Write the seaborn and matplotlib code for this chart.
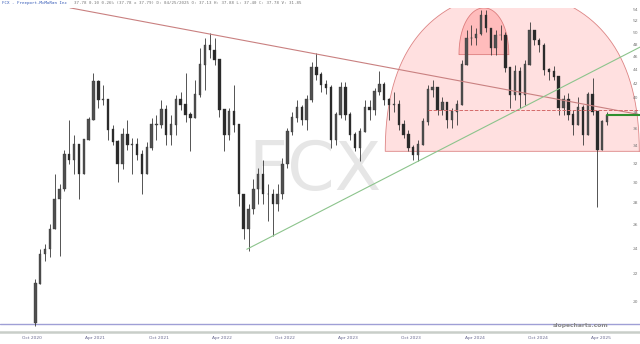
import numpy as np
import pandas as pd
import matplotlib
matplotlib.use("Agg")
import matplotlib.pyplot as plt
import matplotlib.dates as mdates
import matplotlib.transforms as mtransforms
from matplotlib.ticker import NullLocator
import seaborn as sns

# ---------------- data ----------------
first_date = "2020-10-10"
period_days = 14
first_open = 18.6

high = [21.63, 23.94, 24.35, 26.06, 30.87, 29.84, 33.60, 37.20, 35.35, 34.18,
        34.76, 37.58, 43.62, 42.60, 41.88, 39.54, 36.57, 34.76, 36.20, 37.20,
        35.00, 35.00, 33.60, 34.53, 37.45, 37.83, 39.81, 39.14, 37.83, 40.49,
        40.90, 43.62, 38.22, 42.60, 47.48, 49.11, 49.95, 49.11, 45.28, 38.22,
        38.74, 41.88, 36.20, 28.85, 27.89, 30.35, 31.61, 32.48, 29.84, 29.34,
        29.84, 32.70, 36.20, 38.22, 39.81, 39.14, 40.49, 45.28, 46.68, 43.77,
        42.60, 41.88, 38.22, 42.31, 42.31, 38.22, 35.72, 36.20, 39.81, 39.81,
        41.46, 43.92, 42.31, 40.08, 40.90, 39.81, 37.20, 35.96, 34.18, 34.76,
        37.45, 41.88, 42.60, 41.46, 40.22, 39.41, 38.74, 39.81, 45.59, 50.46,
        51.32, 50.80, 54.00, 54.00, 50.80, 50.46, 51.32, 50.12, 44.37, 44.82,
        44.52, 45.59, 51.85, 50.46, 49.11, 48.29, 44.37, 44.67, 43.03, 40.49,
        40.76, 38.48, 40.22, 39.14, 40.90, 42.89, 38.22, 37.20, 38.22]
low = [18.45, 22.00, 22.99, 23.30, 26.06, 23.38, 29.14, 31.94, 30.87, 28.36,
       31.40, 34.76, 37.45, 38.74, 39.14, 34.76, 34.18, 30.14, 31.40, 33.60,
       30.87, 32.48, 28.85, 30.87, 33.60, 34.76, 36.20, 34.18, 34.18, 35.35,
       38.48, 36.95, 33.38, 37.45, 40.22, 41.18, 45.90, 44.82, 37.58, 33.38,
       34.76, 35.72, 27.70, 24.77, 23.78, 26.96, 27.89, 27.89, 26.32, 25.02,
       27.23, 28.36, 31.61, 35.35, 36.95, 36.57, 35.96, 39.54, 42.60, 40.90,
       40.63, 33.83, 34.18, 37.45, 37.20, 34.76, 33.38, 32.27, 35.72, 37.20,
       37.83, 40.49, 39.14, 37.20, 38.22, 35.96, 35.00, 33.38, 32.48, 32.27,
       34.18, 36.57, 40.22, 37.83, 37.83, 36.20, 36.20, 36.57, 39.14, 44.82,
       47.96, 47.96, 49.61, 50.12, 46.36, 46.36, 48.78, 43.77, 38.74, 39.81,
       38.74, 39.14, 44.82, 47.96, 46.84, 43.33, 42.60, 42.60, 37.83, 37.83,
       37.20, 35.35, 37.83, 34.18, 35.96, 37.83, 27.61, 33.60, 36.57]
close = [21.26, 23.54, 23.94, 25.62, 28.36, 29.34, 33.04, 32.48, 34.18, 30.87,
         34.76, 37.20, 42.31, 39.81, 39.81, 35.96, 34.53, 31.94, 35.35, 34.18,
         34.18, 33.04, 30.87, 33.83, 36.57, 36.57, 38.48, 35.35, 36.57, 39.81,
         39.14, 37.83, 37.45, 40.49, 44.82, 47.96, 47.16, 45.59, 38.48, 35.35,
         38.22, 36.57, 28.85, 25.62, 27.42, 29.34, 30.87, 28.85, 28.85, 27.89,
         28.85, 31.94, 35.72, 37.45, 38.74, 37.20, 39.81, 44.37, 43.33, 41.88,
         41.46, 34.76, 37.83, 41.46, 37.83, 35.35, 33.83, 35.72, 38.74, 38.48,
         40.90, 41.88, 39.81, 39.14, 39.14, 36.57, 35.35, 33.83, 33.04, 34.18,
         36.95, 41.18, 41.46, 38.48, 39.41, 37.20, 38.22, 39.14, 44.82, 49.11,
         49.11, 49.78, 53.10, 50.80, 47.48, 49.61, 49.61, 44.37, 40.49, 43.77,
         40.49, 44.82, 50.46, 48.78, 47.96, 44.07, 43.77, 43.03, 38.74, 39.81,
         37.83, 36.57, 38.74, 35.35, 40.49, 38.22, 33.60, 36.95, 37.78]

y_ticks = [20, 22, 24, 26, 28, 30, 32, 34, 36, 38, 40, 42, 44, 46, 48, 50, 52, 54]
x_tick_dates = ["2020-10-01", "2021-04-01", "2021-10-01", "2022-04-01", "2022-10-01",
                "2023-04-01", "2023-10-01", "2024-04-01", "2024-10-01", "2025-04-01"]
x_tick_labels = ["Oct 2020", "Apr 2021", "Oct 2021", "Apr 2022", "Oct 2022",
                 "Apr 2023", "Oct 2023", "Apr 2024", "Oct 2024", "Apr 2025"]

# annotations
red_trend = (["2021-01-18", "2025-07-23"], [54.4, 37.83])
green_trend = (["2022-06-13", "2025-07-23"], [23.94, 47.6])
last_price = 37.78
last_line_dates = ["2025-04-20", "2025-07-23"]
dashed_level = 38.43
dashed_dates = ["2023-11-19", "2025-07-23"]
floor_level = 18.57
big_arc = dict(center="2024-07-19", half_days=367, base=33.4, height=24.0)
small_arc = dict(center="2024-04-28", half_days=72, base=46.4, height=8.0)

header_name = "FCX - Freeport-McMoRan Inc"
header_rest = ("37.78 0.10 0.26% (37.78 x 37.79) D: 04/25/2025 O: 37.13 "
               "H: 37.88 L: 37.40 C: 37.78 V: 31.85")

# ---------------- drawing ----------------
sns.set_theme(style="white")
plt.rcParams["font.family"] = ["DejaVu Sans"]

fig = plt.figure(figsize=(6.4, 3.44), dpi=100)
ax = fig.add_axes([0.0, 12 / 344, 1.0, 324 / 344])
ax.set_facecolor("white")

dates = pd.date_range(first_date, periods=len(close), freq=f"{period_days}D")
xd = mdates.date2num(dates)
h = np.array(high)
l = np.array(low)
c = np.array(close)
o = np.r_[first_open, c[:-1]]
hi = np.maximum(h, np.maximum(o, c))
lo = np.minimum(l, np.minimum(o, c))

ax.set_yscale("log")
ax.set_ylim(18.07, 54.37)
ax.set_xlim(mdates.date2num(pd.Timestamp("2020-06-30")),
            mdates.date2num(pd.Timestamp("2025-07-23")))

# watermark
ax.text(mdates.date2num(pd.Timestamp("2022-12-28")), 31.2, "FCX",
        fontsize=49, color="#e6e6e6", ha="center", va="center", zorder=0)


def arc(spec, face, alpha, zorder):
    cx = mdates.date2num(pd.Timestamp(spec["center"]))
    t = np.linspace(0, np.pi, 300)
    xs = cx + spec["half_days"] * np.cos(t)
    ys = spec["base"] + spec["height"] * np.sin(t)
    ax.fill(xs, ys, color=face, alpha=alpha, lw=0, zorder=zorder)
    ax.plot(np.r_[xs, xs[0]], np.r_[ys, ys[0]], color="#d46a6a", lw=0.6,
            alpha=0.8, zorder=zorder)


arc(big_arc, "#ff3030", 0.15, 1)
arc(small_arc, "#ff3030", 0.2, 1.1)

# candles
up = c >= o
ax.vlines(xd, lo, hi, color="#383838", lw=0.6, zorder=3)
ax.bar(xd, np.abs(c - o) + 0.05, bottom=np.minimum(o, c), width=7,
       color=np.where(up, "#505050", "#2a2a2a"), edgecolor="#333333",
       linewidth=0.25, zorder=4)

# trend lines
def ln(pair, color, lw, ls="-", z=5):
    sns.lineplot(x=mdates.date2num(pd.to_datetime(pair[0])), y=pair[1], ax=ax,
                 color=color, lw=lw, linestyle=ls, zorder=z)


ln(red_trend, "#c98080", 0.8)
ln(green_trend, "#8cc48c", 0.8)
ln((dashed_dates, [dashed_level, dashed_level]), "#d46a6a", 0.7, "--")
ln((last_line_dates, [last_price, last_price]), "#2f8f2f", 1.5, z=6)
ax.axhline(floor_level, color="#9f9fd6", lw=1.0, zorder=2)

# axes styling
for s in ["top", "left", "right"]:
    ax.spines[s].set_visible(False)
ax.spines["bottom"].set_color("#c9cec9")
ax.spines["bottom"].set_linewidth(1.8)

ax.yaxis.set_major_locator(NullLocator())
ax.yaxis.set_minor_locator(NullLocator())
ytrans = mtransforms.blended_transform_factory(ax.transAxes, ax.transData)
for v in y_ticks:
    ax.text(0.9925, v, str(v), transform=ytrans, ha="center", va="center",
            fontsize=3.2, color="#7a7a7a", zorder=8)

xt = mdates.date2num(pd.to_datetime(x_tick_dates))
ax.set_xticks(xt)
ax.set_xticklabels(x_tick_labels)
ax.xaxis.set_minor_locator(NullLocator())
ax.tick_params(axis="x", which="both", bottom=False, length=0, pad=3.0,
               labelsize=3.2, labelcolor="#6a6a90")
ax.set_xlabel("")
ax.set_ylabel("")
ax.grid(False)

ax.text(0.951, 0.011, "slopecharts.com", transform=ax.transAxes, ha="right",
        va="bottom", fontsize=4.3, fontweight="bold", color="#8a8a8a", zorder=7)

fig.text(2 / 640, 1 - 3 / 344, header_name, fontsize=3.0, color="#2f55b5",
         family="DejaVu Sans Mono", va="center", ha="left")
fig.text(74 / 640, 1 - 3 / 344, header_rest, fontsize=3.0, color="#777777",
         family="DejaVu Sans Mono", va="center", ha="left")

fig.savefig("out.png", dpi=100)
